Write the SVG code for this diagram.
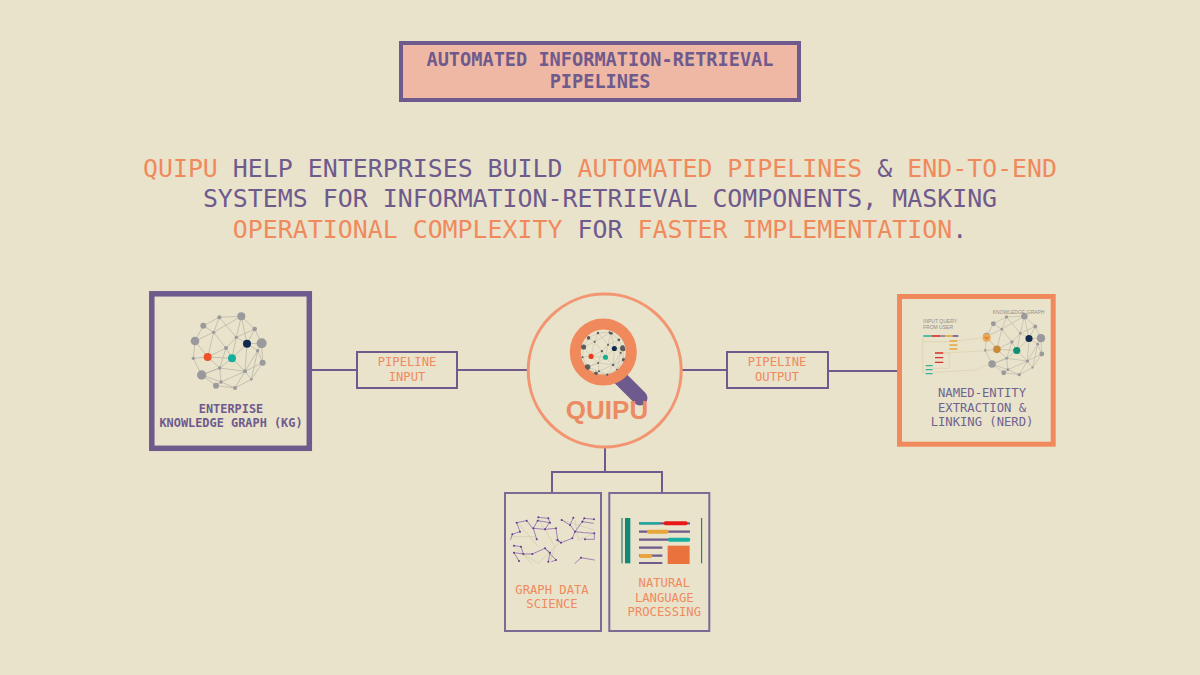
<svg xmlns="http://www.w3.org/2000/svg" xmlns:xlink="http://www.w3.org/1999/xlink" width="1200" height="675" viewBox="0 0 1200 675">
<style>
text{font-family:"DejaVu Sans Mono","Liberation Mono",monospace;text-anchor:middle}
.p{fill:#6f5a8d}.o{fill:#f08a5d}
.h{font-size:24.9px}
.t{font-size:18.6px;font-weight:bold;fill:#6f5a8d}
.b{fill:none;stroke:#6f5a8d;stroke-width:2}
.c{fill:none;stroke:#6f5a8d;stroke-width:2}
.s{font-size:12.2px}
.g{fill:#9a9a9c}
.e{fill:none;stroke:#b5b3a6;stroke-width:2.2}
.tiny{font-family:"Liberation Sans",sans-serif;font-size:5px;fill:#908f8c;text-anchor:start}
.gd{fill:none;stroke:#7b4fa8;stroke-width:2;stroke-linecap:round;stroke-linejoin:round}
.gl{fill:none;stroke:#cfc9af;stroke-width:2}
.bar{stroke-width:7;stroke-linecap:round;fill:none}
</style>
<defs>
<g id="kgE">
<path class="e" d="M238 112L304 109L344 147L365 190L368 248L334 298L285 324L228 317L185 285L160 235L165 183L190 137L238 112M238 112L221 157L190 137M221 157L165 183L203 231L160 235M221 157L203 231L239 264L185 285L243 306L228 317M221 157L258 204L239 264L243 306L285 324L315 274L334 298M238 112L289 172L304 109L221 157M289 172L321 191L344 147L289 172L258 204L276 235L239 264L315 274L276 235L321 191L365 190L353 212L321 191L315 274L353 212L368 248L315 274L243 306M304 109L321 191M289 172L276 235M203 231L258 204M203 231L276 235M185 285L239 264M353 212L334 298"/>
</g>
<g id="kgN">
<circle class="g" cx="238" cy="112" r="6"/><circle class="g" cx="304" cy="109" r="12"/><circle class="g" cx="190" cy="137" r="9"/><circle class="g" cx="344" cy="147" r="7"/><circle class="g" cx="221" cy="157" r="5"/><circle class="g" cx="165" cy="183" r="13"/><circle class="g" cx="289" cy="172" r="5"/><circle class="g" cx="365" cy="190" r="15"/><circle class="g" cx="258" cy="204" r="6"/><circle class="g" cx="353" cy="212" r="5"/><circle class="g" cx="160" cy="235" r="5"/><circle class="g" cx="368" cy="248" r="9"/><circle class="g" cx="239" cy="264" r="5"/><circle class="g" cx="315" cy="274" r="6"/><circle class="g" cx="185" cy="285" r="14"/><circle class="g" cx="334" cy="298" r="4"/><circle class="g" cx="243" cy="306" r="5"/><circle class="g" cx="228" cy="317" r="9"/><circle class="g" cx="285" cy="324" r="6"/>
</g>
<clipPath id="lens"><circle cx="602.7" cy="353.3" r="23"/></clipPath>
</defs>
<rect width="1200" height="675" fill="#e9e3cb"/>

<g id="title">
<rect x="401" y="43" width="398" height="57" fill="#efb8a5" stroke="#6f5a8d" stroke-width="4"/>
<text class="t" x="600" y="66">AUTOMATED INFORMATION-RETRIEVAL</text>
<text class="t" x="600" y="88">PIPELINES</text>
</g>

<g id="headline" class="h">
<text class="h" x="600" y="177"><tspan class="o">QUIPU</tspan><tspan class="p"> HELP ENTERPRISES BUILD </tspan><tspan class="o">AUTOMATED PIPELINES</tspan><tspan class="p"> &amp; </tspan><tspan class="o">END-TO-END</tspan></text>
<text class="h p" x="600" y="207">SYSTEMS FOR INFORMATION-RETRIEVAL COMPONENTS, MASKING</text>
<text class="h" x="600" y="238"><tspan class="o">OPERATIONAL COMPLEXITY</tspan><tspan class="p"> FOR </tspan><tspan class="o">FASTER IMPLEMENTATION</tspan><tspan class="p">.</tspan></text>
</g>

<g id="connectors">
<path class="c" d="M312 370H357M457 370H528M682 370H727M828 371H898M605 448V472M552 493V472H662V493"/>
</g>

<g id="node-kg">
<rect x="151.8" y="293.8" width="157.5" height="154.5" fill="none" stroke="#6f5a8d" stroke-width="5.5"/>
<g transform="translate(140,280) scale(.3333)">
<use href="#kgE"/><use href="#kgN"/>
<circle cx="321" cy="191" r="12" fill="#12294f"/><circle cx="203" cy="231" r="12" fill="#ee5228"/><circle cx="276" cy="235" r="12" fill="#17ae9f"/>
</g>
<text class="p" style="font-size:11.9px;font-weight:bold" x="231" y="413">ENTERPISE</text>
<text class="p" style="font-size:11.9px;font-weight:bold" x="231" y="426.5">KNOWLEDGE GRAPH (KG)</text>
</g>

<g id="node-input">
<rect class="b" x="357" y="352" width="100" height="36"/>
<text class="o s" x="407" y="366">PIPELINE</text>
<text class="o s" x="407" y="381">INPUT</text>
</g>

<g id="node-quipu">
<circle cx="604.7" cy="370.5" r="76.5" fill="none" stroke="#f29570" stroke-width="3"/>
<path d="M619 377L640 398" stroke="#6f5a8d" stroke-width="15" stroke-linecap="round" fill="none"/>
<path d="M619 377L640 398" stroke="#e9e3cb" stroke-width="19" stroke-linecap="butt" fill="none" opacity="0"/>
<circle cx="603.3" cy="352" r="28" fill="#e9e3cb" stroke="#f08a5d" stroke-width="11"/>
<g clip-path="url(#lens)">
<g transform="translate(551.1,310.9) scale(.197)">
<use href="#kgE" style="--x:1"/>
</g>
<g transform="translate(551.1,310.9) scale(.197)">
<g style="filter:brightness(.6)"><use href="#kgN"/></g>
<circle cx="321" cy="191" r="13" fill="#12294f"/><circle cx="203" cy="231" r="13" fill="#ee3a1e"/><circle cx="276" cy="235" r="13" fill="#17ae8f"/>
</g>
</g>
<text x="607" y="419" style="font-family:'Liberation Sans',sans-serif;font-size:26px;font-weight:bold" fill="#ec8a63">QUIPU</text>
</g>

<g id="node-output">
<rect class="b" x="727" y="352" width="101" height="36"/>
<text class="o s" x="777" y="366">PIPELINE</text>
<text class="o s" x="777" y="381">OUTPUT</text>
</g>

<g id="node-nerd">
<rect x="899.5" y="296.5" width="153.7" height="147.7" fill="none" stroke="#f08a5d" stroke-width="5"/>
<text class="tiny" x="923" y="322.5">INPUT QUERY</text>
<text class="tiny" x="923" y="328.5">FROM USER</text>
<text class="tiny" x="992.7" y="314">KNOWLEDGE GRAPH</text>
<g transform="translate(941.7,286.5) scale(.272)">
<use href="#kgE"/><use href="#kgN"/>
<circle cx="321" cy="191" r="13" fill="#12294f"/><circle cx="276" cy="235" r="13" fill="#0d8f70"/><circle cx="203" cy="231" r="14" fill="#c98a3c"/>
</g>
<g transform="translate(890,285) scale(.3333)">
<path d="M98 158V262H106M98 170H178M178 170L280 158M162 204H178V250H130M162 204L300 197M130 262L260 255Q280 240 300 238" fill="none" stroke="#d9c9a0" stroke-width="1.5"/>
<path d="M100 153H125" stroke="#35b39a" stroke-width="5"/><path d="M125 153H152" stroke="#d92f2f" stroke-width="5"/><path d="M152 153H165" stroke="#8a7f8c" stroke-width="5"/><path d="M165 153H188" stroke="#e5a83d" stroke-width="5"/><path d="M188 153H205" stroke="#6f5a8d" stroke-width="5"/>
<path d="M178 168H202M178 180H202M178 192H202" stroke="#e5a83d" stroke-width="4"/>
<path d="M135 204H160M135 218H160M135 232H160" stroke="#d92f2f" stroke-width="4"/>
<path d="M107 242H128M107 254H128M107 266H128" stroke="#35b39a" stroke-width="4"/>
<circle cx="290" cy="158" r="12" fill="#eda94f"/><path d="M284 156L290 161L296 156" fill="none" stroke="#c2452d" stroke-width="2.5"/>
</g>
<text class="s p" style="fill:#6f6490" x="982" y="397.3">NAMED-ENTITY</text>
<text class="s p" style="fill:#6f6490" x="982" y="411.7">EXTRACTION &amp;</text>
<text class="s p" style="fill:#6f6490" x="982" y="426">LINKING (NERD)</text>
</g>

<g id="node-gds">
<rect class="b" x="505" y="493" width="96" height="138" style="stroke:#7a6a94"/>
<g transform="translate(495,480) scale(.3333)">
<path class="gl" d="M128 112L180 200M70 130L130 200M50 170L120 170M60 200L110 250M130 250L200 180M180 200L165 245M200 120L298 150M240 120L250 180M250 180L298 160M80 220L130 250"/>
<path class="gd" d="M130 112L160 115L165 128L128 122L115 145L125 178M65 128L95 122L113 145M75 155L65 128M75 155L52 163L47 178M115 145L150 148L163 128M150 148L183 145L188 180L198 188L232 175L240 155L225 135M200 120L225 135L235 113M240 155L262 125L268 115L297 118M262 125L295 130M270 178H298V160L268 158L240 155M198 188L183 180M57 197L78 200L85 222L112 222L150 205L165 218L160 245M57 218L85 222M57 218L72 243M150 205L183 240L170 245M240 250L258 233L298 240"/>
<g fill="#5d3d90"><circle cx="130" cy="112" r="3"/><circle cx="160" cy="115" r="3"/><circle cx="165" cy="128" r="3"/><circle cx="128" cy="122" r="3"/><circle cx="115" cy="145" r="3"/><circle cx="125" cy="178" r="3"/><circle cx="65" cy="128" r="3"/><circle cx="95" cy="122" r="3"/><circle cx="75" cy="155" r="3"/><circle cx="52" cy="163" r="3"/><circle cx="150" cy="148" r="3"/><circle cx="183" cy="145" r="3"/><circle cx="188" cy="180" r="3"/><circle cx="198" cy="188" r="3"/><circle cx="232" cy="175" r="3"/><circle cx="240" cy="155" r="3"/><circle cx="225" cy="135" r="3"/><circle cx="200" cy="120" r="3"/><circle cx="235" cy="113" r="3"/><circle cx="262" cy="125" r="3"/><circle cx="268" cy="115" r="3"/><circle cx="297" cy="118" r="3"/><circle cx="270" cy="178" r="3"/><circle cx="298" cy="160" r="3"/><circle cx="57" cy="197" r="3"/><circle cx="78" cy="200" r="3"/><circle cx="85" cy="222" r="3"/><circle cx="112" cy="222" r="3"/><circle cx="150" cy="205" r="3"/><circle cx="165" cy="218" r="3"/><circle cx="160" cy="245" r="3"/><circle cx="57" cy="218" r="3"/><circle cx="72" cy="243" r="3"/><circle cx="183" cy="240" r="3"/><circle cx="258" cy="233" r="3"/></g>
</g>
<text class="o s" x="552" y="594">GRAPH DATA</text>
<text class="o s" x="552" y="608">SCIENCE</text>
</g>

<g id="node-nlp">
<rect class="b" x="609.3" y="493" width="100" height="138" style="stroke:#7a6a94"/>
<g transform="translate(495,480) scale(.3333)">
<path d="M381 114V250M620 114V250" stroke="#17665f" stroke-width="3" fill="none"/>
<rect x="390" y="114" width="16" height="136" fill="#0f8a76"/>
<path d="M432 130H585M432 155H585M432 179H585M432 203H502M432 227H502M432 249H502" stroke="#6f5a8d" stroke-width="6.5" fill="none"/>
<path class="bar" stroke="#17b0a0" d="M437 130H490"/><path class="bar" stroke="#e81818" style="stroke-width:12" d="M512 130H572"/>
<path class="bar" stroke="#e8a53a" style="stroke-width:12" d="M462 155H515"/>
<path class="bar" stroke="#17b0a0" style="stroke-width:12" d="M524 179H580"/>
<path class="bar" stroke="#e8a53a" style="stroke-width:12" d="M439 228H466"/>
<rect x="518" y="197" width="66" height="55" fill="#ea733d"/>
</g>
<text class="o s" x="664.3" y="587.3">NATURAL</text>
<text class="o s" x="664.3" y="601.5">LANGUAGE</text>
<text class="o s" x="664.3" y="616">PROCESSING</text>
</g>
</svg>
